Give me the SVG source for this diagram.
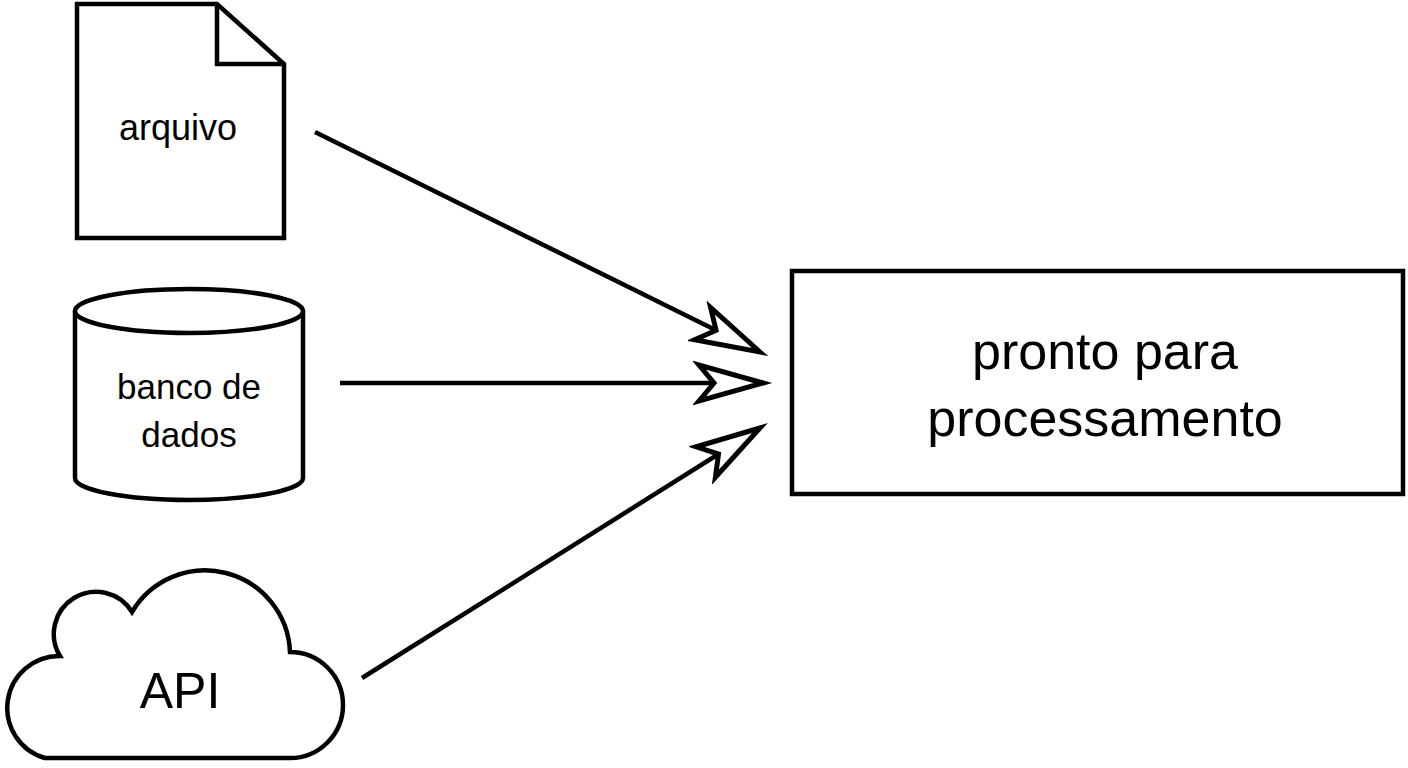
<svg xmlns="http://www.w3.org/2000/svg" width="1408" height="768" viewBox="0 0 1408 768">
<style>
.s{fill:#fff;stroke:#000;stroke-width:4.5;stroke-linejoin:miter}
.t{font-family:"Liberation Sans",Arial,sans-serif;fill:#000;text-anchor:middle}
.c{stroke:#000;stroke-width:4.5;fill:none}
</style>
<defs>
<marker id="ah" markerUnits="userSpaceOnUse" markerWidth="80" markerHeight="50" viewBox="-70 -25 80 50" refX="0" refY="0" orient="auto">
<path d="M0,0 L-64,-18 L-49,0 L-64,18 Z" fill="#fff" stroke="#000" stroke-width="5"/>
</marker>
</defs>
<rect width="1408" height="768" fill="#fff"/>
<g id="arquivo">
<path class="s" d="M77,4 H217 L284,64 V238 H77 Z"/>
<path class="c" d="M217,4 V64 H284"/>
<text class="t" x="178" y="140" font-size="36">arquivo</text>
</g>
<g id="banco">
<path class="s" d="M75,311 V478 A114,22 0 0 0 303,478 V311"/>
<ellipse class="s" cx="189" cy="311" rx="114" ry="22"/>
<text class="t" x="189" y="399" font-size="35">banco de</text>
<text class="t" x="189" y="447" font-size="35">dados</text>
</g>
<g id="api">
<path class="s" d="M45,758 H290 A52,52 0 0 0 290,652 A85,85 0 0 0 132,612 A42,42 0 0 0 60,656 A52,52 0 0 0 45,758 Z"/>
<text class="t" x="180" y="708" font-size="50">API</text>
</g>
<g id="pronto">
<rect class="s" x="792" y="271" width="611" height="223"/>
<text class="t" x="1105" y="369" font-size="52">pronto para</text>
<text class="t" x="1105" y="436" font-size="52">processamento</text>
</g>
<g id="connectors">
<line class="c" x1="315" y1="132" x2="760" y2="352" marker-end="url(#ah)"/>
<line class="c" x1="340" y1="383" x2="763" y2="383" marker-end="url(#ah)"/>
<line class="c" x1="362" y1="678" x2="760" y2="428" marker-end="url(#ah)"/>
</g>
</svg>
